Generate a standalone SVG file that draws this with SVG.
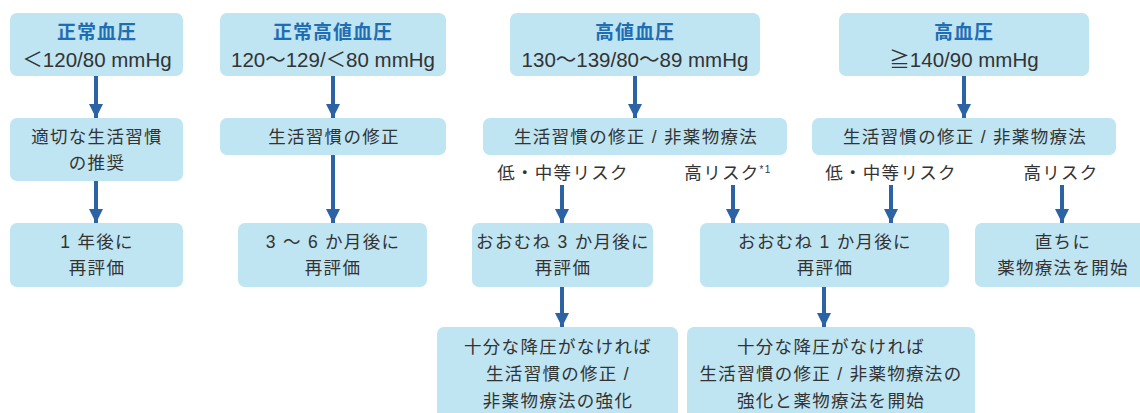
<svg xmlns="http://www.w3.org/2000/svg" width="1140" height="413" viewBox="0 0 1140 413">
<style>
.box{fill:#bfe4f2}
.t{font-family:"Liberation Sans","Noto Sans CJK JP",sans-serif;font-size:17.5px;fill:#333;text-anchor:middle;letter-spacing:1.3px}
.h{font-family:"Noto Sans CJK JP",sans-serif;font-size:19px;font-weight:bold;fill:#1f6db3;text-anchor:middle;letter-spacing:1px}
.v{font-family:"Liberation Sans","Noto Sans CJK JP",sans-serif;font-size:20.5px;fill:#333;text-anchor:middle}
.c line{stroke:#2c63a5;stroke-width:4}
</style>
<defs>
<marker id="ah" markerUnits="userSpaceOnUse" markerWidth="14" markerHeight="14" refX="14" refY="7" orient="auto">
<path d="M0,0 L14,7 L0,14 Z" fill="#2c63a5"/>
</marker>
</defs>
<rect width="1140" height="413" fill="#fff"/>

<g id="n1"><rect class="box" x="10" y="13" width="173" height="63" rx="7"/><text class="h" x="97" y="39">正常血圧</text><text class="v" x="97" y="67">＜120/80 mmHg</text></g>
<g id="n2"><rect class="box" x="220" y="13" width="226" height="63" rx="7"/><text class="h" x="333" y="39">正常高値血圧</text><text class="v" x="333" y="67">120～129/＜80 mmHg</text></g>
<g id="n3"><rect class="box" x="510" y="13" width="250" height="63" rx="7"/><text class="h" x="635" y="39">高値血圧</text><text class="v" x="635" y="67">130～139/80～89 mmHg</text></g>
<g id="n4"><rect class="box" x="839" y="13" width="250" height="63" rx="7"/><text class="h" x="964" y="39">高血圧</text><text class="v" x="964" y="67">≧140/90 mmHg</text></g>

<g id="n5"><rect class="box" x="10" y="118" width="173" height="63" rx="7"/><text class="t" x="97" y="143">適切な生活習慣</text><text class="t" x="97" y="169">の推奨</text></g>
<g id="n6"><rect class="box" x="220" y="118" width="226" height="37" rx="7"/><text class="t" x="334" y="143">生活習慣の修正</text></g>
<g id="n7"><rect class="box" x="483" y="118" width="304" height="37" rx="7"/><text class="t" x="636" y="143">生活習慣の修正 / 非薬物療法</text></g>
<g id="n8"><rect class="box" x="812" y="118" width="304" height="37" rx="7"/><text class="t" x="965" y="143">生活習慣の修正 / 非薬物療法</text></g>

<g id="l1"><text class="t" x="563" y="179">低・中等リスク</text></g>
<g id="l2"><text class="t" x="728" y="179">高リスク<tspan font-size="10" dy="-6">*1</tspan></text></g>
<g id="l3"><text class="t" x="891" y="179">低・中等リスク</text></g>
<g id="l4"><text class="t" x="1061" y="179">高リスク</text></g>

<g id="n9"><rect class="box" x="10" y="223" width="173" height="64" rx="7"/><text class="t" x="97" y="248">1 年後に</text><text class="t" x="97" y="274">再評価</text></g>
<g id="n10"><rect class="box" x="238" y="223" width="189" height="64" rx="7"/><text class="t" x="333" y="248">3 ～ 6 か月後に</text><text class="t" x="333" y="274">再評価</text></g>
<g id="n11"><rect class="box" x="472" y="223" width="181" height="64" rx="7"/><text class="t" x="563" y="248">おおむね 3 か月後に</text><text class="t" x="563" y="274">再評価</text></g>
<g id="n12"><rect class="box" x="700" y="223" width="249" height="64" rx="7"/><text class="t" x="825" y="248">おおむね 1 か月後に</text><text class="t" x="825" y="274">再評価</text></g>
<g id="n13"><rect class="box" x="975" y="223" width="180" height="64" rx="7"/><text class="t" x="1063" y="248">直ちに</text><text class="t" x="1063" y="274">薬物療法を開始</text></g>

<g id="n14"><rect class="box" x="437" y="327" width="241" height="100" rx="7"/><text class="t" x="558" y="353">十分な降圧がなければ</text><text class="t" x="558" y="380">生活習慣の修正 /</text><text class="t" x="558" y="407">非薬物療法の強化</text></g>
<g id="n15"><rect class="box" x="687" y="327" width="288" height="100" rx="7"/><text class="t" x="831" y="353">十分な降圧がなければ</text><text class="t" x="831" y="380">生活習慣の修正 / 非薬物療法の</text><text class="t" x="831" y="407">強化と薬物療法を開始</text></g>

<g class="c" id="connectors">
<line x1="96" y1="76" x2="96" y2="118" marker-end="url(#ah)"/>
<line x1="333" y1="76" x2="333" y2="118" marker-end="url(#ah)"/>
<line x1="635" y1="76" x2="635" y2="118" marker-end="url(#ah)"/>
<line x1="964" y1="76" x2="964" y2="118" marker-end="url(#ah)"/>
<line x1="96" y1="181" x2="96" y2="223" marker-end="url(#ah)"/>
<line x1="333" y1="155" x2="333" y2="223" marker-end="url(#ah)"/>
<line x1="562" y1="185" x2="562" y2="223" marker-end="url(#ah)"/>
<line x1="733" y1="185" x2="733" y2="223" marker-end="url(#ah)"/>
<line x1="891" y1="185" x2="891" y2="223" marker-end="url(#ah)"/>
<line x1="1062" y1="185" x2="1062" y2="223" marker-end="url(#ah)"/>
<line x1="562" y1="287" x2="562" y2="327" marker-end="url(#ah)"/>
<line x1="824" y1="287" x2="824" y2="327" marker-end="url(#ah)"/>
</g>
</svg>
